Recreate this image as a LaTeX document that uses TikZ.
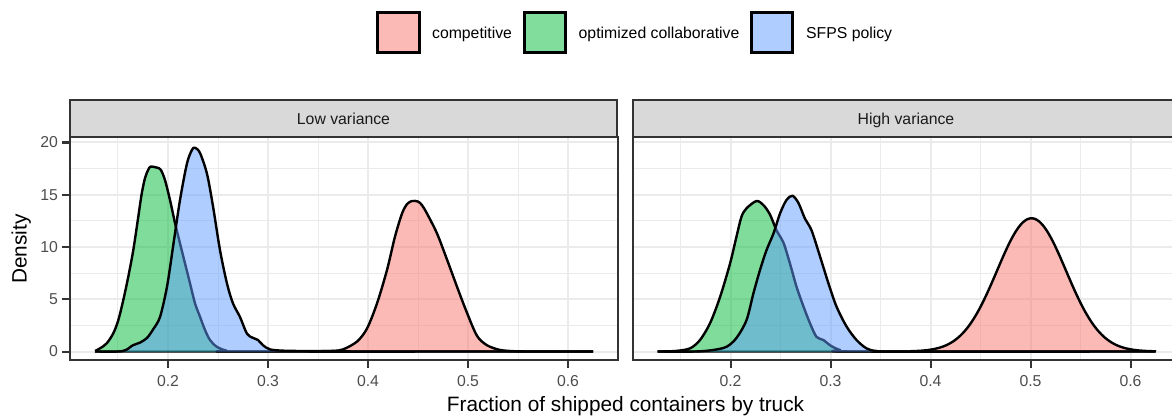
\documentclass[tikz,border=0pt]{standalone}
\usepackage{fontspec}
\setmainfont{Liberation Sans}
\definecolor{cComp}{HTML}{F8766D}
\definecolor{cColl}{HTML}{00BA38}
\definecolor{cSFPS}{HTML}{619CFF}
\definecolor{gridc}{HTML}{EBEBEB}
\definecolor{framec}{HTML}{333333}
\definecolor{stripfill}{HTML}{D9D9D9}
\definecolor{ticktext}{HTML}{4D4D4D}
\definecolor{striptext}{HTML}{1A1A1A}

% density curves (x = fraction, y = density)
\newcommand{\curveLowComp}{plot[smooth,tension=0.5] coordinates {(0.127,0) (0.30,0) (0.345,0.02) (0.365,0.06) (0.375,0.2) (0.389,0.95) (0.399,2.2) (0.409,4.6) (0.419,7.8) (0.427,11.0) (0.434,13.2) (0.439,14.1) (0.444,14.4) (0.450,14.35) (0.454,14.0) (0.459,13.2) (0.469,11.3) (0.479,8.8) (0.489,6.2) (0.499,3.7) (0.509,1.5) (0.519,0.6) (0.532,0.15) (0.548,0.02) (0.57,0) (0.625,0)}}
\newcommand{\curveLowColl}{plot[smooth,tension=0.5] coordinates {(0.127,0.05) (0.132,0.3) (0.1387,0.78) (0.1453,1.74) (0.1503,3.0) (0.1553,4.93) (0.1603,7.16) (0.1653,9.71) (0.1703,12.9) (0.1737,15.1) (0.177,16.6) (0.1803,17.4) (0.1827,17.7) (0.1887,17.6) (0.1927,17.4) (0.197,16.4) (0.202,14.5) (0.207,12.3) (0.212,10.35) (0.217,8.44) (0.222,6.53) (0.227,4.61) (0.232,3.33) (0.237,2.06) (0.242,1.1) (0.2487,0.46) (0.2587,0.08) (0.275,0) (0.625,0)}}
\newcommand{\curveLowSFPS}{plot[smooth,tension=0.5] coordinates {(0.127,0) (0.150,0) (0.158,0.15) (0.165,0.6) (0.172,0.85) (0.179,1.3) (0.185,2.1) (0.192,3.3) (0.199,6.2) (0.205,10.0) (0.212,14.5) (0.219,18.0) (0.224,19.3) (0.227,19.5) (0.232,19.0) (0.239,17.0) (0.245,13.9) (0.252,9.7) (0.259,6.5) (0.265,4.6) (0.272,3.3) (0.279,1.7) (0.285,1.3) (0.290,1.1) (0.295,0.6) (0.302,0.2) (0.315,0.08) (0.34,0.04) (0.37,0.03) (0.40,0) (0.625,0)}}
\newcommand{\curveHighColl}{plot[smooth,tension=0.5] coordinates {(0.127,0) (0.145,0.05) (0.1595,0.3) (0.1695,1.1) (0.1795,2.7) (0.1895,5.2) (0.1995,8.4) (0.206,11.0) (0.211,12.9) (0.216,13.7) (0.226,14.4) (0.233,14.0) (0.2395,13.1) (0.246,11.6) (0.253,10.4) (0.2595,8.4) (0.266,6.2) (0.273,4.3) (0.2795,2.7) (0.286,1.4) (0.293,1.1) (0.2995,0.6) (0.3095,0.15) (0.325,0) (0.625,0)}}
\newcommand{\curveHighSFPS}{plot[smooth,tension=0.5] coordinates {(0.127,0) (0.165,0) (0.183,0.15) (0.196,0.45) (0.206,1.3) (0.216,3.0) (0.223,5.6) (0.2295,7.8) (0.236,9.7) (0.243,11.3) (0.2495,13.2) (0.256,14.5) (0.262,14.9) (0.268,14.2) (0.2745,12.7) (0.281,11.6) (0.2895,9.1) (0.298,6.5) (0.306,4.3) (0.316,2.4) (0.326,1.1) (0.336,0.3) (0.346,0.05) (0.37,0) (0.625,0)}}
\newcommand{\curveHighComp}{(0.127,0) -- (0.38,0) -- plot[smooth,domain=0.38:0.625,samples=60] (\x,{12.75*exp(-0.5*((\x-0.501)/0.0345)*((\x-0.501)/0.0345))})}

\begin{document}
\begin{tikzpicture}[x=0.5pt,y=-0.5pt,
  small/.style={font=\fontsize{7.9pt}{9pt}\selectfont, inner sep=0pt},
  ticklab/.style={small, text=ticktext},
  striplab/.style={small, text=striptext, anchor=base},
  legtext/.style={small, text=black, anchor=base west},
  axtitle/.style={font=\fontsize{10.4pt}{12pt}\selectfont, inner sep=0pt, text=black, anchor=base},
  keybox/.style={draw=black, line width=1.5pt},
  gridmajor/.style={draw=gridc, line width=1pt},
  gridminor/.style={draw=gridc, line width=0.5pt},
  frameline/.style={draw=framec, line width=1pt},
  stripbox/.style={fill=stripfill, draw=framec, line width=1pt},
  dens/.style={draw=black, line width=1.2pt, line join=round},
  area/.style={fill opacity=0.5}]
\useasboundingbox (0,0) rectangle (1172,417);
\clip (0,0) rectangle (1172,417);

% legend
\draw[keybox, fill=cComp!50] (377.5,12.5) rectangle (419.2,52.5);
\node[legtext] (legComp) at (431.7,38.5) {competitive};
\draw[keybox, fill=cColl!50] (524.2,12.5) rectangle (565.2,52.5);
\node[legtext] (legColl) at (578.3,38.5) {optimized collaborative};
\draw[keybox, fill=cSFPS!50] (751.5,12.5) rectangle (792.8,52.5);
\node[legtext] (legSFPS) at (805.7,38.5) {SFPS policy};

% facet strips
\draw[stripbox] (70,100) rectangle (617,137);
\node[striplab] (stripLow) at (343.5,124.3) {Low variance};
\draw[stripbox] (632.5,100) rectangle (1179.5,137);
\node[striplab] (stripHigh) at (906,124.3) {High variance};

% left panel: low variance
\begin{scope}[shift={(-32,351.5)}, x=500pt, y=5.225pt]
  \foreach \v in {0.15,0.25,0.35,0.45,0.55} \draw[gridminor] (\v,-0.813) -- (\v,20.53);
  \foreach \d in {2.5,7.5,12.5,17.5} \draw[gridminor] (0.102,\d) -- (0.6495,\d);
  \foreach \v in {0.2,0.3,0.4,0.5,0.6} \draw[gridmajor] (\v,-0.813) -- (\v,20.53);
  \foreach \d in {0,5,10,15,20} \draw[gridmajor] (0.102,\d) -- (0.6495,\d);
  \fill[cComp, area] \curveLowComp -- (0.127,0) -- cycle;
  \draw[dens] \curveLowComp;
  \fill[cColl, area] \curveLowColl -- (0.127,0) -- cycle;
  \draw[dens] \curveLowColl;
  \fill[cSFPS, area] \curveLowSFPS -- (0.127,0) -- cycle;
  \draw[dens] \curveLowSFPS;
  \draw[frameline] (0.102,-0.813) rectangle (0.6495,20.53);
\end{scope}

% right panel: high variance
\begin{scope}[shift={(530.5,351.5)}, x=500pt, y=5.225pt]
  \foreach \v in {0.15,0.25,0.35,0.45,0.55} \draw[gridminor] (\v,-0.813) -- (\v,20.53);
  \foreach \d in {2.5,7.5,12.5,17.5} \draw[gridminor] (0.102,\d) -- (0.6495,\d);
  \foreach \v in {0.2,0.3,0.4,0.5,0.6} \draw[gridmajor] (\v,-0.813) -- (\v,20.53);
  \foreach \d in {0,5,10,15,20} \draw[gridmajor] (0.102,\d) -- (0.6495,\d);
  \fill[cComp, area] \curveHighComp -- (0.625,0) -- (0.127,0) -- cycle;
  \draw[dens] \curveHighComp -- (0.625,0);
  \fill[cColl, area] \curveHighColl -- (0.127,0) -- cycle;
  \draw[dens] \curveHighColl;
  \fill[cSFPS, area] \curveHighSFPS -- (0.127,0) -- cycle;
  \draw[dens] \curveHighSFPS;
  \draw[frameline] (0.102,-0.813) rectangle (0.6495,20.53);
\end{scope}

% y axis
\foreach \lab [count=\i from 0] in {0,5,10,15,20} {
  \draw[frameline] (62,{351.5-52.25*\i}) -- (70,{351.5-52.25*\i});
  \node[ticklab, anchor=east] (ytick\i) at (58.3,{351.5-52.25*\i}) {\lab};
}
% x axes
\foreach \lab [count=\i from 0] in {0.2,0.3,0.4,0.5,0.6} {
  \draw[frameline] ({168+100*\i},360) -- ({168+100*\i},368);
  \node[ticklab, anchor=base] (xtickL\i) at ({168+100*\i},386.7) {\lab};
  \draw[frameline] ({730.5+100*\i},360) -- ({730.5+100*\i},368);
  \node[ticklab, anchor=base] (xtickR\i) at ({730.5+100*\i},386.7) {\lab};
}

% axis titles
\node[axtitle] (xtitle) at (625.5,411.7) {Fraction of shipped containers by truck};
\node[axtitle, rotate=90] (ytitle) at (26.5,249) {Density};
\end{tikzpicture}
\end{document}
